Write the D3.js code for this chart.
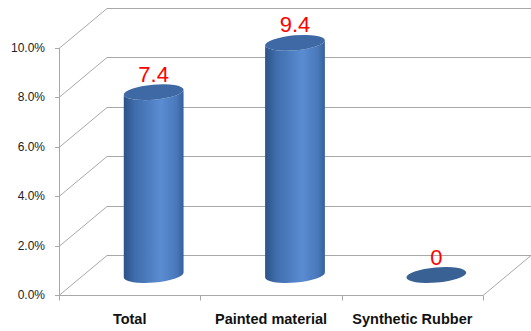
<!DOCTYPE html>
<html>
<head>
<meta charset="utf-8">
<script src="https://cdn.jsdelivr.net/npm/d3@7"></script>
<style>
  body { margin: 0; background: #fff; }
  svg { display: block; }
  .tick-label { font-family: "Liberation Sans", Arial, sans-serif; font-size: 12px; fill: #222; }
  .cat-label { font-family: "Liberation Sans", Arial, sans-serif; font-size: 14.5px; font-weight: bold; fill: #111; }
  .val-label { font-family: "Liberation Sans", Arial, sans-serif; font-size: 22px; fill: #ff0000; }
</style>
</head>
<body>
<script>
// data
var categories = ["Total", "Painted material", "Synthetic Rubber"];
var values = [7.4, 9.4, 0];
var valueLabels = ["7.4", "9.4", "0"];
var yTicks = [0, 2, 4, 6, 8, 10];

var width = 531, height = 331;
var depth = {dx: 48, dy: -40};   // 3d offset front -> back wall
var left = 59, right = 483;

var svg = d3.select("body").append("svg")
  .attr("width", width).attr("height", height);

var y = d3.scaleLinear().domain([0, 10]).range([295, 48]);
var x = d3.scaleBand().domain(categories).range([left, right]);

var defs = svg.append("defs");
var grad = defs.append("linearGradient").attr("id", "cyl")
  .attr("x1", "0%").attr("x2", "100%").attr("y1", "0%").attr("y2", "0%");
grad.append("stop").attr("offset", "0%").attr("stop-color", "#2c5288");
grad.append("stop").attr("offset", "18%").attr("stop-color", "#3f6cab");
grad.append("stop").attr("offset", "62%").attr("stop-color", "#5a8cd2");
grad.append("stop").attr("offset", "88%").attr("stop-color", "#4a78ba");
grad.append("stop").attr("offset", "100%").attr("stop-color", "#34609c");

var gridColor = "#a8a8a8";
var grid = svg.append("g").attr("stroke", gridColor).attr("fill", "none").attr("stroke-width", 1);

// back wall lines + side wall diagonals
yTicks.forEach(function(t) {
  var yy = Math.round(y(t)) + 0.5;
  grid.append("line")
    .attr("x1", left + depth.dx).attr("y1", yy + depth.dy)
    .attr("x2", right + depth.dx).attr("y2", yy + depth.dy);
  grid.append("line")
    .attr("x1", left).attr("y1", yy)
    .attr("x2", left + depth.dx).attr("y2", yy + depth.dy);
});

// floor front edge and right edge
var y0 = Math.round(y(0)) + 0.5;
grid.append("line").attr("x1", left).attr("y1", y0).attr("x2", right).attr("y2", y0);
grid.append("line").attr("x1", right).attr("y1", y0).attr("x2", right + depth.dx).attr("y2", y0 + depth.dy);

// y axis
grid.append("line").attr("x1", left + 0.5).attr("y1", y(10)).attr("x2", left + 0.5).attr("y2", y0);
yTicks.forEach(function(t) {
  var yy = Math.round(y(t)) + 0.5;
  grid.append("line").attr("x1", left - 4).attr("y1", yy).attr("x2", left).attr("y2", yy);
});
svg.selectAll("text.tick-label").data(yTicks).enter().append("text")
  .attr("class", "tick-label")
  .attr("x", 45).attr("y", function(d) { return y(d) + 4; })
  .attr("text-anchor", "end")
  .text(function(d) { return d.toFixed(1) + "%"; });

// category ticks
var catEdges = categories.map(function(c) { return x(c); }).concat([right]);
catEdges.forEach(function(e) {
  grid.append("line").attr("x1", Math.round(e) + 0.5).attr("y1", y0)
    .attr("x2", Math.round(e) + 0.5).attr("y2", y0 + 5);
});

svg.selectAll("text.cat-label").data(categories).enter().append("text")
  .attr("class", "cat-label")
  .attr("x", function(d) { return x(d) + x.bandwidth() / 2; })
  .attr("y", 324)
  .attr("text-anchor", "middle")
  .text(function(d) { return d; });

// cylinders
var rx = 30, ry = 7.5, tilt = -5;
var rad = tilt * Math.PI / 180;
function ePoint(cx, cy, a) {
  var px = rx * Math.cos(a), py = ry * Math.sin(a);
  return [cx + px * Math.cos(rad) - py * Math.sin(rad), cy + px * Math.sin(rad) + py * Math.cos(rad)];
}

var bars = svg.append("g");
values.forEach(function(v, i) {
  var cx = x(categories[i]) + x.bandwidth() / 2 + depth.dx / 2;
  var cyB = y(0) + depth.dy / 2;
  var cyT = y(v) + depth.dy / 2;
  var lB = ePoint(cx, cyB, Math.PI), rB = ePoint(cx, cyB, 0);
  var lT = ePoint(cx, cyT, Math.PI), rT = ePoint(cx, cyT, 0);
  if (v > 0) {
    var d = "M" + lT + " L" + lB +
      " A" + rx + "," + ry + " " + tilt + " 0 0 " + rB +
      " L" + rT +
      " A" + rx + "," + ry + " " + tilt + " 0 1 " + lT + " Z";
    bars.append("path").attr("d", d).attr("fill", "url(#cyl)");
  }
  bars.append("ellipse")
    .attr("cx", cx).attr("cy", cyT).attr("rx", rx).attr("ry", ry)
    .attr("transform", "rotate(" + tilt + "," + cx + "," + cyT + ")")
    .attr("fill", v > 0 ? "#3e69a5" : "#3a6193");

  svg.append("text").attr("class", "val-label")
    .attr("x", cx).attr("y", cyT - ry - 3)
    .attr("text-anchor", "middle")
    .text(valueLabels[i]);
});
</script>
</body>
</html>
